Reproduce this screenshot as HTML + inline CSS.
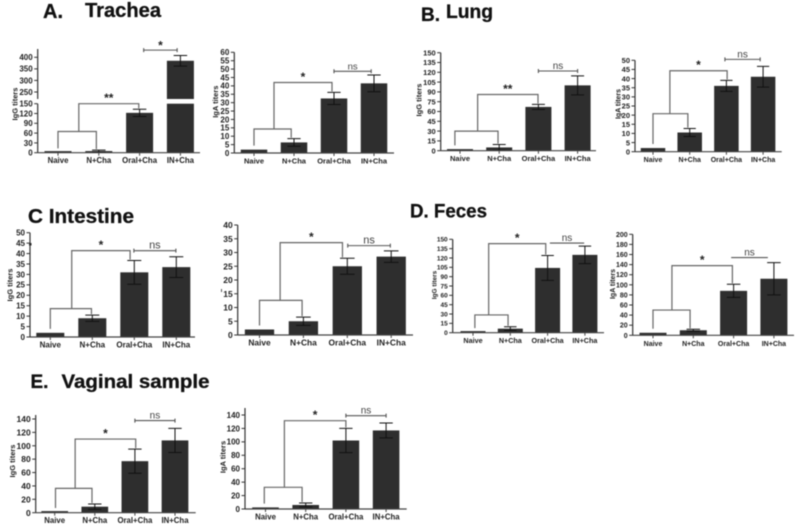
<!DOCTYPE html>
<html lang="en">
<head>
<meta charset="utf-8">
<title>IgG and IgA titers by sample site</title>
<style>
html,body{margin:0;padding:0;background:#fff;width:800px;height:530px;overflow:hidden}
svg{display:block;filter:blur(.5px)}
text{font-family:"Liberation Sans",sans-serif;fill:#222}
.title{font-weight:700;fill:#111;stroke:#111;stroke-width:.3px}
.tick{font-weight:700;text-anchor:end}
.cat{font-weight:700;text-anchor:middle}
.ytitle{font-weight:700;text-anchor:middle}
.star{font-size:12px;font-weight:700;text-anchor:middle}
.ns{text-anchor:middle;fill:#444}
</style>
</head>
<body>
<svg id="figure" width="800" height="530" viewBox="0 0 800 530" xmlns="http://www.w3.org/2000/svg">
  <rect width="800" height="530" fill="#fff"/>
  <text class="title" x="43" y="18" font-size="20">A.</text>
  <text class="title" x="85" y="17" font-size="20" textLength="76" lengthAdjust="spacingAndGlyphs">Trachea</text>
  <text class="title" x="421" y="21" font-size="19">B.</text>
  <text class="title" x="446" y="18" font-size="19" textLength="47" lengthAdjust="spacingAndGlyphs">Lung</text>
  <text class="title" x="28" y="223" font-size="20" textLength="106" lengthAdjust="spacingAndGlyphs">C Intestine</text>
  <text class="title" x="410" y="217.5" font-size="19" textLength="77" lengthAdjust="spacingAndGlyphs">D. Feces</text>
  <text class="title" x="30.5" y="388" font-size="19">E.</text>
  <text class="title" x="61.5" y="388" font-size="19" textLength="148" lengthAdjust="spacingAndGlyphs">Vaginal sample</text>
  <rect x="29" y="243" width="2.5" height="2.5" fill="#222"/>
  <rect x="221" y="289" width="1" height="3" fill="#555"/>
</svg>
<script>
const categories = ['Naive', 'N+Cha', 'Oral+Cha', 'IN+Cha'];

const tracheaIggValues = [1, 5, 122, 385];
const tracheaIggErrors = [0, 3, 11, 23];
const tracheaIggLowerTicks = [0, 30, 60, 90, 120, 150];
const tracheaIggUpperTicks = [250, 300, 350, 400];
const tracheaIggLevels = [65, 150, 431];

const tracheaIgaValues = [2, 6.3, 32.5, 41.5];
const tracheaIgaErrors = [0, 2.3, 3.6, 5];
const tracheaIgaTicks = [0, 5, 10, 15, 20, 25, 30, 35, 40, 45, 50, 55, 60];
const tracheaIgaLevels = [14.3, 42, 48.7];

const lungIggValues = [2, 5, 67, 100];
const lungIggErrors = [0, 4.5, 4, 14.5];
const lungIggTicks = [0, 15, 30, 45, 60, 75, 90, 105, 120, 135, 150];
const lungIggLevels = [30, 86, 122];

const lungIgaValues = [2, 10.5, 36, 41];
const lungIgaErrors = [0, 2.2, 3, 5.7];
const lungIgaTicks = [0, 5, 10, 15, 20, 25, 30, 35, 40, 45, 50];
const lungIgaLevels = [20.8, 44.3, 50.5];

const intestineIggValues = [2, 9, 31, 33.5];
const intestineIggErrors = [0, 1.5, 5.7, 5];
const intestineIggTicks = [0, 5, 10, 15, 20, 25, 30, 35, 40, 45, 50];
const intestineIggLevels = [13.6, 41.4, 41.4];

const intestineIgaValues = [2, 5, 25, 28.5];
const intestineIgaErrors = [0, 1.5, 2.9, 2.1];
const intestineIgaTicks = [0, 5, 10, 15, 20, 25, 30, 35, 40];
const intestineIgaLevels = [12.6, 33.6, 32.5];

const fecesIggValues = [1, 6.5, 104, 125];
const fecesIggErrors = [0, 3, 20, 14];
const fecesIggTicks = [0, 15, 30, 45, 60, 75, 90, 105, 120, 135, 150];
const fecesIggLevels = [28.5, 143, 144];

const fecesIgaValues = [5, 10, 88, 112];
const fecesIgaErrors = [0, 2, 13, 32];
const fecesIgaTicks = [0, 20, 40, 60, 80, 100, 120, 140, 160, 180, 200];
const fecesIgaLevels = [50, 138, 154];

const vaginalIggValues = [1, 9, 77, 108];
const vaginalIggErrors = [0, 4, 18, 18];
const vaginalIggTicks = [0, 20, 40, 60, 80, 100, 120, 140];
const vaginalIggLevels = [36.4, 110, 137.6];

const vaginalIgaValues = [2, 6, 102, 117];
const vaginalIgaErrors = [0, 3, 18, 11];
const vaginalIgaTicks = [0, 20, 40, 60, 80, 100, 120, 140];
const vaginalIgaLevels = [32.3, 131.5, 139];

const panelDefs = [
  {id:'trachea-igg', yTitle:'IgG titers', values:tracheaIggValues, errors:tracheaIggErrors, ticks:tracheaIggLowerTicks.concat(tracheaIggUpperTicks), levels:tracheaIggLevels,
   ax:37.7, xEnd:200, first:58, step:40.8, bw:27, titleX:15, titleY:104, axisTop:49, tickFont:8, catFont:7.8, titleFont:7.5, nsFont:9,
   segments:[{d:[0,150],r:[152.7,103.7]},{d:[250,400],r:[92,57.3]}], breakGap:[99,103.7],
   link:[0,.94,.51,1.98], top:[2.1,2.92], topMark:'*', topCaps:true, mainMark:'**'},
  {id:'trachea-iga', yTitle:'IgA titers', values:tracheaIgaValues, errors:tracheaIgaErrors, ticks:tracheaIgaTicks, levels:tracheaIgaLevels,
   ax:234.3, xEnd:394, first:254, step:40, bw:26.5, titleX:215.7, titleY:101.7, tickFont:8, catFont:7.5, titleFont:7.5, nsFont:9.5,
   segments:[{d:[0,60],r:[153,52.3]}], link:[0,.93,.5,1.95], top:[2,2.93], topMark:'ns', topCaps:true},
  {id:'lung-igg', yTitle:'IgG titers', values:lungIggValues, errors:lungIggErrors, ticks:lungIggTicks, levels:lungIggLevels,
   ax:440.7, xEnd:596, first:460, step:39.2, bw:26, titleX:419, titleY:100, tickFont:7.5, catFont:7.5, titleFont:7.5, nsFont:10,
   segments:[{d:[0,150],r:[150.7,52.7]}], link:[-.13,.97,.45,1.99], top:[2,3], topMark:'ns', topCaps:true, mainMark:'**'},
  {id:'lung-iga', yTitle:'IgA titers', values:lungIgaValues, errors:lungIgaErrors, ticks:lungIgaTicks, levels:lungIgaLevels,
   ax:635, xEnd:781.7, first:653, step:36.7, bw:24.5, titleX:618, titleY:104, tickFont:7.5, catFont:7, titleFont:7, nsFont:10,
   segments:[{d:[0,50],r:[151.7,60.3]}], link:[0,.95,.46,2.02], top:[1.96,2.92], topMark:'ns', topCaps:true},
  {id:'intestine-igg', yTitle:'IgG titers', values:intestineIggValues, errors:intestineIggErrors, ticks:intestineIggTicks, levels:intestineIggLevels,
   ax:30, xEnd:195, first:50.3, step:42, bw:28, titleX:10, titleY:285, tickFont:8, catFont:8, titleFont:7.5, nsFont:11,
   segments:[{d:[0,50],r:[337,232.7]}], link:[0,.98,.51,1.9], top:[1.99,2.99], topMark:'ns', topCaps:true},
  {id:'intestine-iga', yTitle:'', values:intestineIgaValues, errors:intestineIgaErrors, ticks:intestineIgaTicks, levels:intestineIgaLevels,
   ax:237.7, xEnd:413, first:259.5, step:43.9, bw:29.3, tickFont:8.5, catFont:8.4, titleFont:7.5, nsFont:11,
   segments:[{d:[0,40],r:[335,225]}], link:[0,.97,.47,1.89], top:[2.01,2.98], topMark:'ns', topCaps:true},
  {id:'feces-igg', yTitle:'IgG titers', values:fecesIggValues, errors:fecesIggErrors, ticks:fecesIggTicks, levels:fecesIggLevels,
   ax:452.7, xEnd:604, first:473, step:37.3, bw:25, titleX:434, titleY:285, tickFont:6.5, catFont:7.2, titleFont:6.5, nsFont:10,
   segments:[{d:[0,150],r:[332.7,239.3]}], link:[.05,.94,.42,1.95], top:[2.06,2.98], topMark:'ns', topCaps:false},
  {id:'feces-iga', yTitle:'IgA titers', values:fecesIgaValues, errors:fecesIgaErrors, ticks:fecesIgaTicks, levels:fecesIgaLevels,
   ax:632.7, xEnd:794, first:653, step:40.3, bw:27, titleX:612.7, titleY:284, tickFont:7, catFont:7, titleFont:7, nsFont:10,
   segments:[{d:[0,200],r:[335.3,234.3]}], link:[0,.92,.47,1.97], top:[1.94,2.85], topMark:'ns', topCaps:false},
  {id:'vaginal-igg', yTitle:'IgG titers', values:vaginalIggValues, errors:vaginalIggErrors, ticks:vaginalIggTicks, levels:vaginalIggLevels,
   ax:35.7, xEnd:195.7, first:54.7, step:40.1, bw:26.7, titleX:12.7, titleY:461, axisTop:415, tickFont:8.5, catFont:7.8, titleFont:7.5, nsFont:10,
   segments:[{d:[0,140],r:[512.7,419]}], link:[.02,.93,.51,2.02], top:[2,3], topMark:'ns', topCaps:true},
  {id:'vaginal-iga', yTitle:'IgA titers', values:vaginalIgaValues, errors:vaginalIgaErrors, ticks:vaginalIgaTicks, levels:vaginalIgaLevels,
   ax:245, xEnd:406.7, first:265.5, step:40.2, bw:26.6, titleX:223, titleY:457, axisTop:408, tickFont:8, catFont:7.8, titleFont:7.5, nsFont:10,
   segments:[{d:[0,140],r:[509,415]}], link:[-.03,.91,.47,2], top:[2,3], topMark:'ns', topCaps:true}
];

const svg = document.getElementById('figure');
const NS = 'http://www.w3.org/2000/svg';

function make(parent, tag, props, content) {
  const node = document.createElementNS(NS, tag);
  for (const key in props) node.setAttribute(key, props[key]);
  if (content !== undefined) node.textContent = content;
  parent.appendChild(node);
  return node;
}

function polyline(parent, pts, stroke, width) {
  return make(parent, 'polyline', {points: pts.map(p => p.join(',')).join(' '), fill: 'none', stroke: stroke, 'stroke-width': width});
}

function yScale(p, v) {
  const segs = p.segments;
  let s = segs[0];
  if (segs.length > 1 && v > segs[0].d[1]) s = segs[1];
  return s.r[0] + (v - s.d[0]) * (s.r[1] - s.r[0]) / (s.d[1] - s.d[0]);
}

function xScale(p, i) {
  return p.first + i * p.step;
}

panelDefs.forEach(function (p) {
  const g = make(svg, 'g', {});
  
  

  const base = p.segments[0].r[0];
  const top = p.axisTop || p.segments[p.segments.length - 1].r[1];

  p.values.forEach(function (v, i) {
    const cx = xScale(p, i);
    const h = Math.max(base - yScale(p, v), 1.6);
    const bar = make(g, 'rect', {x: cx - p.bw / 2, y: base - h, width: p.bw, height: h, fill: '#2e2e2e'});
    
    
  });

  if (p.breakGap) {
    const gap = make(g, 'rect', {x: p.ax - 6, y: p.breakGap[0], width: p.xEnd - p.ax + 8, height: p.breakGap[1] - p.breakGap[0], fill: '#fff'});
    
    
  }

  p.values.forEach(function (v, i) {
    const e = p.errors[i];
    if (!e) return;
    const cx = xScale(p, i);
    const capW = p.bw / 4;
    const yHi = yScale(p, v + e);
    const yLo = yScale(p, v - e);
    const err = make(g, 'path', {d: 'M' + (cx - capW) + ' ' + yHi + 'H' + (cx + capW) + 'M' + cx + ' ' + yHi + 'V' + yLo + 'M' + (cx - capW) + ' ' + yLo + 'H' + (cx + capW), stroke: '#111', 'stroke-width': 1, fill: 'none'});
    
    
  });

  const xAxis = make(g, 'line', {x1: p.ax, x2: p.xEnd, y1: base, y2: base, stroke: '#444', 'stroke-width': 1.2});
  
  

  if (p.breakGap) {
    const yLower = make(g, 'line', {x1: p.ax, x2: p.ax, y1: base, y2: p.breakGap[1], stroke: '#333', 'stroke-width': 1.2});
    
    
    const yUpper = make(g, 'line', {x1: p.ax, x2: p.ax, y1: p.breakGap[0], y2: top, stroke: '#333', 'stroke-width': 1.2});
    
    
  } else {
    const yAxis = make(g, 'line', {x1: p.ax, x2: p.ax, y1: base, y2: top, stroke: '#333', 'stroke-width': 1.2});
    
    
  }

  p.ticks.forEach(function (t) {
    const ty = yScale(p, t);
    const mark = make(g, 'line', {x1: p.ax - 3.5, x2: p.ax, y1: ty, y2: ty, stroke: '#333', 'stroke-width': 1});
    
    
    const label = make(g, 'text', {class: 'tick', 'font-size': p.tickFont, x: p.ax - 5, y: ty + p.tickFont * .36}, String(t));
    
    
  });

  categories.forEach(function (c, i) {
    const cx = xScale(p, i);
    const mark = make(g, 'line', {x1: cx, x2: cx, y1: base, y2: base + 3, stroke: '#444', 'stroke-width': 1});
    
    
    const label = make(g, 'text', {class: 'cat', 'font-size': p.catFont, x: cx, y: base + 10.5}, c);
    
    
  });

  if (p.yTitle) {
    const yt = make(g, 'text', {class: 'ytitle', 'font-size': p.titleFont, transform: 'translate(' + p.titleX + ' ' + p.titleY + ') rotate(-90)', dy: 2.5}, p.yTitle);
    
    
  }

  const lowY = yScale(p, p.levels[0]);
  const highY = yScale(p, p.levels[1]);
  const topY = yScale(p, p.levels[2]);
  const xa = xScale(p, p.link[0]);
  const xb = xScale(p, p.link[1]);
  const xc = xScale(p, p.link[2]);
  const xd = xScale(p, p.link[3]);

  const lowBracket = polyline(g, [[xa, yScale(p, p.values[0]) - 4], [xa, lowY], [xb, lowY], [xb, yScale(p, p.values[1] + p.errors[1]) - 1]], '#666', 1.2);
  
  

  const highBracket = polyline(g, [[xc, lowY], [xc, highY], [xd, highY], [xd, yScale(p, p.values[2] + p.errors[2]) - 1]], '#666', 1.2);
  
  

  const star = make(g, 'text', {class: 'star', x: (xc + xd) / 2, y: highY - 1.5}, p.mainMark || '*');
  
  

  const x1 = xScale(p, p.top[0]);
  const x2 = xScale(p, p.top[1]);
  const caps = p.topCaps ? 'M' + x1 + ' ' + (topY - 2) + 'V' + (topY + 2) + 'M' + x2 + ' ' + (topY - 2) + 'V' + (topY + 2) : '';
  const topBracket = make(g, 'path', {d: 'M' + x1 + ' ' + topY + 'H' + x2 + caps, stroke: '#555', 'stroke-width': 1.1, fill: 'none'});
  
  

  const isStar = p.topMark === '*';
  const topLabel = make(g, 'text', {class: isStar ? 'star' : 'ns', 'font-size': isStar ? 12 : p.nsFont, x: (x1 + x2) / 2, y: isStar ? topY - 0.5 : topY - 2}, p.topMark);
  
  
});
</script>
</body>
</html>
